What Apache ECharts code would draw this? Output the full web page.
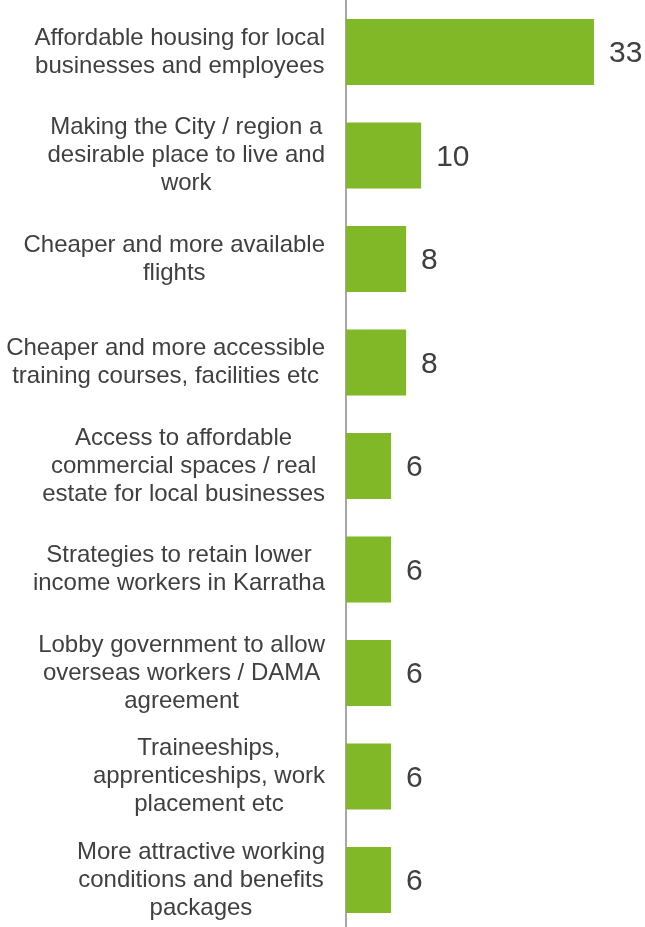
<!DOCTYPE html>
<html>
<head>
<meta charset="utf-8">
<script src="https://cdn.jsdelivr.net/npm/echarts@6/dist/echarts.min.js"></script>
<style>
  html, body { margin: 0; padding: 0; background: #ffffff; overflow: hidden; }
  #chart { width: 645px; height: 932px; }
</style>
</head>
<body>
<div id="chart"></div>
<script>
// Suggested initiatives, ranked by number of mentions
const categories = [
  'Affordable housing for local\nbusinesses and employees',
  'Making the City / region a\ndesirable place to live and\nwork',
  'Cheaper and more available\nflights',
  'Cheaper and more accessible\ntraining courses, facilities etc',
  'Access to affordable\ncommercial spaces / real\nestate for local businesses',
  'Strategies to retain lower\nincome workers in Karratha',
  'Lobby government to allow\noverseas workers / DAMA\nagreement',
  'Traineeships,\napprenticeships, work\nplacement etc',
  'More attractive working\nconditions and benefits\npackages'
];
const mentions = [33, 10, 8, 8, 6, 6, 6, 6, 6];

const FONT = '"Liberation Sans", Arial, Helvetica, sans-serif';
const TEXT = '#404040';

const chart = echarts.init(document.getElementById('chart'));
chart.setOption({
  backgroundColor: '#ffffff',
  animation: false,
  grid: { left: 346, top: 0.25, height: 931.5, width: 270.5, containLabel: false },
  xAxis: {
    type: 'value', min: 0, max: 36, show: false
  },
  yAxis: {
    type: 'category',
    inverse: true,
    data: categories,
    axisLine: { show: true, lineStyle: { color: '#8a8a8a', width: 1.5 } },
    axisTick: { show: false },
    axisLabel: {
      align: 'right',
      margin: 21,
      formatter: v => v.split('\n').map(l => '{c|' + l + '}').join('\n'),
      rich: {
        c: { align: 'center', fontFamily: FONT, fontSize: 24, lineHeight: 28, color: TEXT }
      }
    }
  },
  series: [{
    type: 'bar',
    data: mentions,
    barWidth: 66,
    itemStyle: { color: '#80b828' },
    label: {
      show: true,
      position: 'right',
      distance: 15,
      offset: [0, 2],
      fontFamily: FONT,
      fontSize: 30,
      color: TEXT
    }
  }]
});
</script>
</body>
</html>
